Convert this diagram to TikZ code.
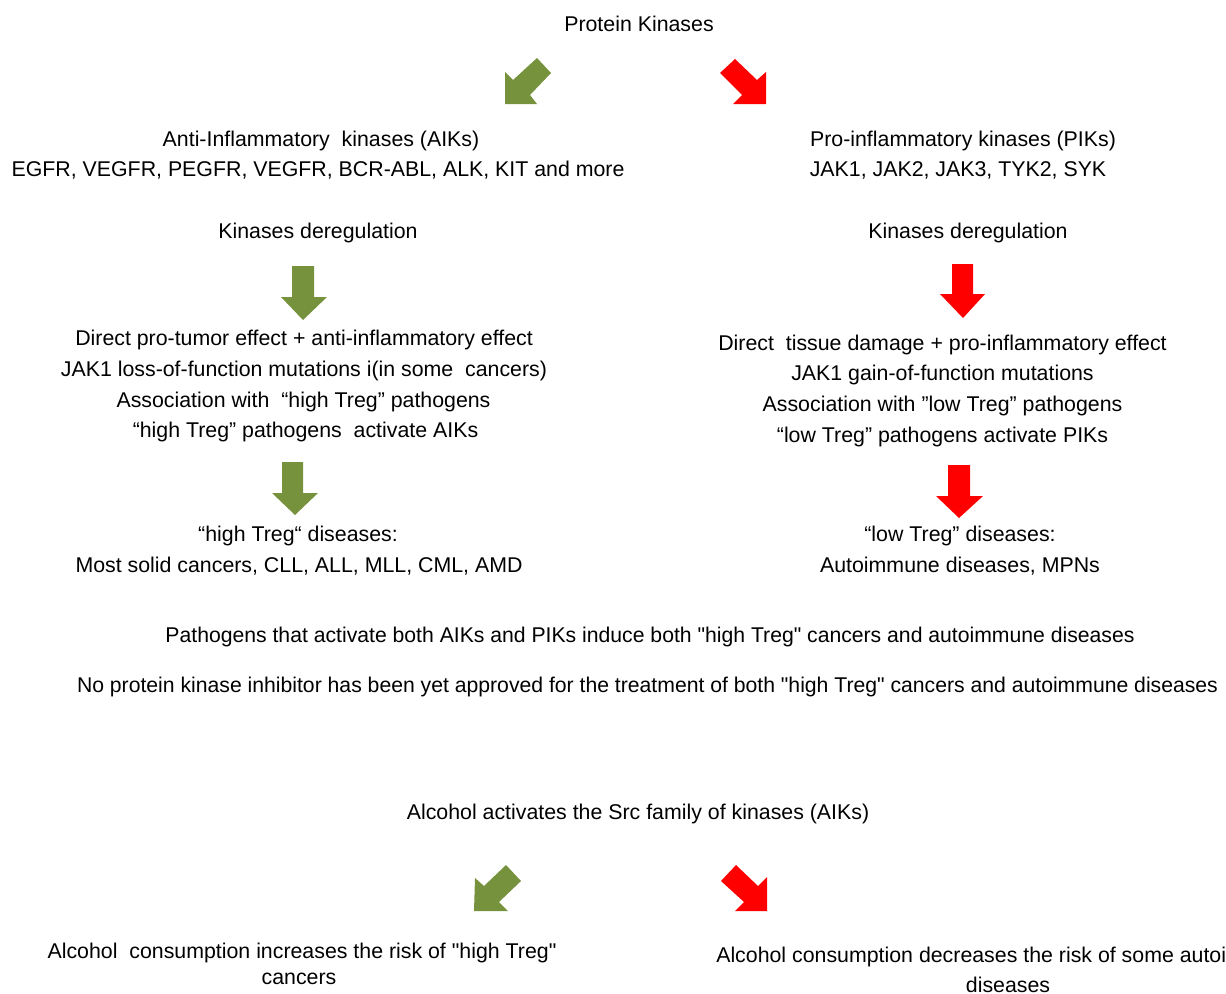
\documentclass[tikz,border=0pt]{standalone}
\usepackage{fontspec}
\setmainfont{Liberation Sans}[Ligatures=TeXOff]
\usepackage{graphicx}
\definecolor{olivegreen}{RGB}{118,146,60}
\definecolor{brightred}{RGB}{255,0,0}
\begin{document}
\begin{tikzpicture}[x=0.75pt,y=-0.75pt,
  txt/.style={anchor=base, inner sep=0pt, font=\fontsize{16}{19}\selectfont},
  txtw/.style={anchor=base west, inner sep=0pt, font=\fontsize{16}{19}\selectfont},
  garrow/.style={fill=olivegreen, draw=none},
  rarrow/.style={fill=brightred, draw=none}]
\useasboundingbox (0,0) rectangle (1226,993);

% top
\node[txt] (pk) at (639,31) {Protein Kinases};

% diagonal arrows (top)
\path[garrow] (505,72) -- (513,80) -- (537,58) -- (551,73) -- (530,95) -- (537,104) -- (505,104) -- cycle;
\path[rarrow] (720,73) -- (735,59) -- (757,80) -- (766,72) -- (766,104) -- (733,104) -- (742,95) -- cycle;

% left column
\node[txt] (aik1) at (321,146) {Anti-Inflammatory\ \ kinases (AIKs)};
\node[txt] (aik2) at (318,176) {EGFR, VEGFR, PEGFR, VEGFR, BCR-ABL, ALK, KIT and more};
\node[txt] (kdl) at (318,238) {Kinases deregulation};
\path[garrow] (292,266) -- (314,266) -- (314,297) -- (327,297) -- (303,320) -- (281,297) -- (292,297) -- cycle;
\node[txt] (la) at (304,345) {Direct pro-tumor effect + anti-inflammatory effect};
\node[txt] (lb) at (304,376) {JAK1 loss-of-function mutations i(in some\ \ cancers)};
\node[txt] (lc) at (303.5,407) {Association with\ \ “high Treg” pathogens};
\node[txt] (ld) at (305.5,437) {“high Treg” pathogens\ \ activate AIKs};
\path[garrow] (282,462) -- (303,462) -- (303,493) -- (318,493) -- (295,515) -- (272,493) -- (282,493) -- cycle;
\node[txt] (hd1) at (298,541) {“high Treg“ diseases:};
\node[txt] (hd2) at (299,572) {Most solid cancers, CLL, ALL, MLL, CML, AMD};

% right column
\node[txt] (pik1) at (963,146) {Pro-inflammatory kinases (PIKs)};
\node[txt] (pik2) at (958,176) {JAK1, JAK2, JAK3, TYK2, SYK};
\node[txt] (kdr) at (968,238) {Kinases deregulation};
\path[rarrow] (952,264) -- (973,264) -- (973,294) -- (985,294) -- (963,318) -- (940,294) -- (952,294) -- cycle;
\node[txt] (ra) at (942.5,350) {Direct\ \ tissue damage + pro-inflammatory effect};
\node[txt] (rb) at (942.5,380) {JAK1 gain-of-function mutations};
\node[txt] (rc) at (942.5,411) {Association with ”low Treg” pathogens};
\node[txt] (rd) at (942.5,442) {“low Treg” pathogens activate PIKs};
\path[rarrow] (948,465) -- (970,465) -- (970,496) -- (983,496) -- (959,518) -- (936,496) -- (948,496) -- cycle;
\node[txt] (ld1) at (960,541) {“low Treg” diseases:};
\node[txt] (ld2) at (960,572) {Autoimmune diseases, MPNs};

% middle statements
\node[txt] (both) at (650,642) {\resizebox{726.75pt}{\height}{Pathogens that activate both AIKs and PIKs induce both "high Treg" cancers and autoimmune diseases}};
\node[txt] (noinh) at (647.5,692) {\resizebox{855.75pt}{\height}{No protein kinase inhibitor has been yet approved for the treatment of both "high Treg" cancers and autoimmune diseases}};

% alcohol
\node[txt] (alc) at (638,819) {Alcohol activates the Src family of kinases (AIKs)};
\path[garrow] (475,878) -- (484,886) -- (506,865) -- (521,881) -- (499,902) -- (508,911) -- (474,911) -- cycle;
\path[rarrow] (721,881) -- (736,865) -- (758,886) -- (767,877) -- (767,911) -- (735,911) -- (744,902) -- cycle;
\node[txt] (inc1) at (302,958) {Alcohol\ \ consumption increases the risk of "high Treg"};
\node[txt] (inc2) at (299,984) {cancers};
\node[txtw] (dec1) at (716,962) {Alcohol consumption decreases the risk of some autoimmune};
\node[txt] (dec2) at (1008,992) {diseases};
\end{tikzpicture}
\end{document}
